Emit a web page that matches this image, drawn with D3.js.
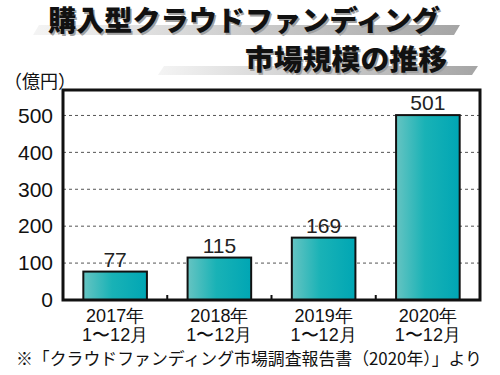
<!DOCTYPE html>
<html>
<head>
<meta charset="utf-8">
<script src="https://cdn.jsdelivr.net/npm/d3@7"></script>
<style>
  body { margin: 0; background: #fff; }
  svg { display: block; font-family: "Noto Sans CJK JP", "Noto Sans", sans-serif; }
</style>
</head>
<body>
<div id="chart"></div>
<script>
const titleLines = ["購入型クラウドファンディング", "市場規模の推移"];
const years = ["2017年", "2018年", "2019年", "2020年"];
const periods = ["1〜12月", "1〜12月", "1〜12月", "1〜12月"];
const values = [77, 115, 169, 501];
const yTicks = [0, 100, 200, 300, 400, 500];
const unitLabel = "（億円）";
const sourceNote = "※「クラウドファンディング市場調査報告書（2020年）」より";

const width = 500, height = 375;
const margin = { top: 90, right: 20, bottom: 75, left: 63 };
const innerW = width - margin.left - margin.right,
      innerH = height - margin.top - margin.bottom;

const svg = d3.select("#chart")
    .append("svg")
    .attr("width", width)
    .attr("height", height);

const defs = svg.append("defs");

// gray ribbon under title
const ribbon = defs.append("linearGradient").attr("id", "ribbon");
ribbon.append("stop").attr("offset", "0%").attr("stop-color", "#f4f4f4");
ribbon.append("stop").attr("offset", "100%").attr("stop-color", "#a5a5a5");

// bar fill
const barGrad = defs.append("linearGradient").attr("id", "barGrad");
barGrad.append("stop").attr("offset", "0%").attr("stop-color", "#66c4c2");
barGrad.append("stop").attr("offset", "45%").attr("stop-color", "#19b2b6");
barGrad.append("stop").attr("offset", "100%").attr("stop-color", "#00a6b4");

// ribbons
const ribbons = [
    { x0: 33, x1: 460, y: 25, h: 10 },
    { x0: 158, x1: 478, y: 66, h: 9 }
];
svg.selectAll("path.ribbon")
    .data(ribbons)
    .join("path")
    .attr("class", "ribbon")
    .attr("fill", "url(#ribbon)")
    .attr("d", r => `M${r.x0 + 6},${r.y} L${r.x1},${r.y} L${r.x1 - 6},${r.y + r.h} L${r.x0},${r.y + r.h} Z`);

// title with shadow
const titlePos = [
    { x: 48, y: 31, w: 392 },
    { x: 245, y: 70, w: 202 }
];
titleLines.forEach((t, i) => {
    const p = titlePos[i];
    [["#a0a0a0", 1.5], ["#111", 0]].forEach(([c, off]) => {
        svg.append("text")
            .attr("x", p.x + off)
            .attr("y", p.y + off)
            .attr("textLength", p.w)
            .attr("lengthAdjust", "spacingAndGlyphs")
            .attr("font-size", 28)
            .attr("font-weight", 900)
            .attr("fill", c)
            .text(t);
    });
});

const g = svg.append("g")
    .attr("transform", `translate(${margin.left},${margin.top})`);

const x = d3.scaleBand()
    .domain(years)
    .range([0, innerW])
    .paddingInner(0.39)
    .paddingOuter(0.195);

const y = d3.scaleLinear()
    .domain([0, 569])
    .range([innerH, 0]);

// gridlines
g.selectAll("line.grid")
    .data(yTicks.filter(d => d > 0))
    .join("line")
    .attr("class", "grid")
    .attr("x1", 0)
    .attr("x2", innerW)
    .attr("y1", d => y(d))
    .attr("y2", d => y(d))
    .attr("stroke", "#555")
    .attr("stroke-width", 1)
    .attr("stroke-dasharray", "3,3");

// y axis labels
const yAxis = g.append("g")
    .call(d3.axisLeft(y).tickValues(yTicks).tickSize(0).tickPadding(10));
yAxis.select(".domain").remove();
yAxis.selectAll("text")
    .attr("font-size", 21)
    .attr("font-family", "'Liberation Sans', sans-serif")
    .attr("fill", "#111");

// bars
g.selectAll("rect.bar")
    .data(values)
    .join("rect")
    .attr("class", "bar")
    .attr("x", (d, i) => x(years[i]))
    .attr("y", d => y(d))
    .attr("width", x.bandwidth())
    .attr("height", d => innerH - y(d))
    .attr("fill", "url(#barGrad)")
    .attr("stroke", "#111")
    .attr("stroke-width", 2);

// value labels
g.selectAll("text.val")
    .data(values)
    .join("text")
    .attr("class", "val")
    .attr("x", (d, i) => x(years[i]) + x.bandwidth() / 2)
    .attr("y", d => y(d) - 5)
    .attr("text-anchor", "middle")
    .attr("font-size", 21)
    .attr("font-family", "'Liberation Sans', sans-serif")
    .attr("fill", "#222")
    .text(d => d);

// small separators between categories
g.selectAll("line.sep")
    .data(years.slice(1))
    .join("line")
    .attr("class", "sep")
    .attr("x1", d => x(d) - x.step() * x.paddingInner() / 2)
    .attr("x2", d => x(d) - x.step() * x.paddingInner() / 2)
    .attr("y1", innerH)
    .attr("y2", innerH - 5)
    .attr("stroke", "#111")
    .attr("stroke-width", 2);

// frame
g.append("rect")
    .attr("width", innerW)
    .attr("height", innerH)
    .attr("fill", "none")
    .attr("stroke", "#111")
    .attr("stroke-width", 3);

// category labels
const xLab = g.append("g")
    .attr("transform", `translate(0,${innerH})`)
    .call(d3.axisBottom(x).tickSize(0).tickPadding(0));
xLab.select(".domain").remove();
xLab.selectAll("text").remove();
xLab.selectAll(".tick").each(function(d, i) {
    const t = d3.select(this).append("text")
        .attr("text-anchor", "middle")
        .attr("font-size", 18)
        .attr("fill", "#111");
    t.append("tspan").attr("x", 0).attr("y", 22).text(years[i]);
    t.append("tspan").attr("x", 0).attr("y", 41).text(periods[i]);
});

// unit label
svg.append("text")
    .attr("x", 4)
    .attr("y", 88)
    .attr("font-size", 18)
    .attr("fill", "#111")
    .text(unitLabel);

// source note
svg.append("text")
    .attr("x", 16)
    .attr("y", 365)
    .attr("textLength", 466)
    .attr("lengthAdjust", "spacingAndGlyphs")
    .attr("font-size", 17)
    .attr("fill", "#111")
    .text(sourceNote);
</script>
</body>
</html>
